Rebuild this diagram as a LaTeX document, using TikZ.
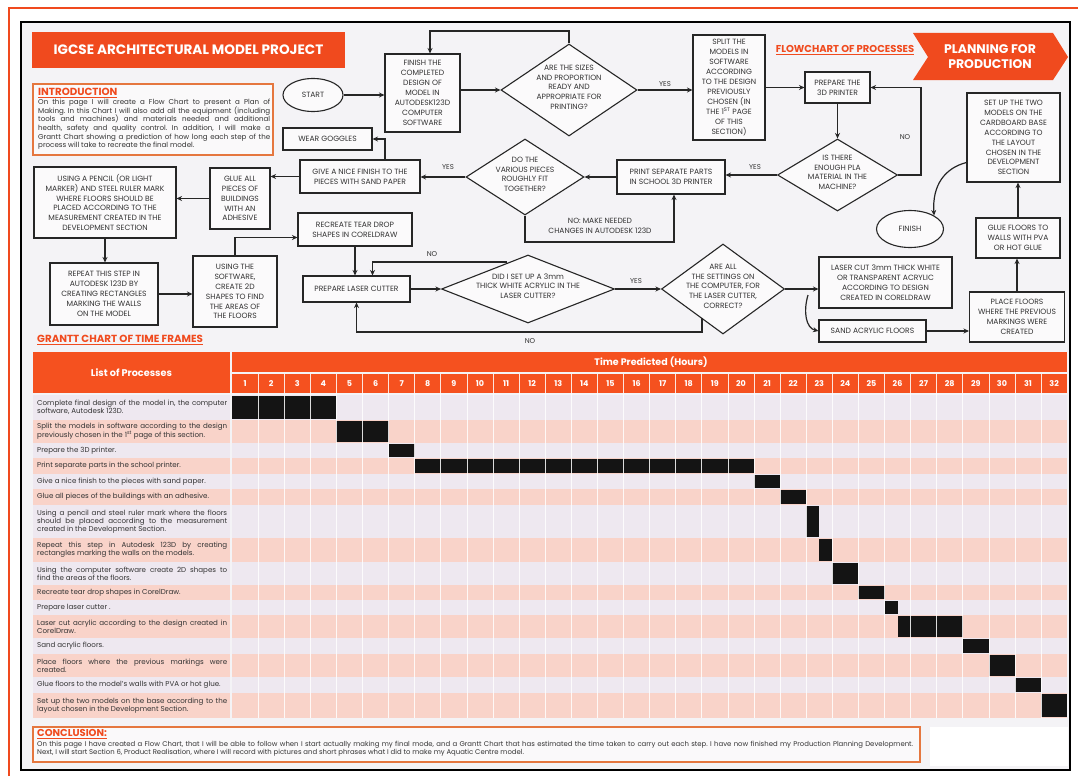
\documentclass[tikz,border=0pt]{standalone}
\usepackage{fontspec}
\setmainfont{Poppins}
\usetikzlibrary{shapes.geometric,arrows.meta,calc}
\frenchspacing
\definecolor{org}{HTML}{F04A1E}
\definecolor{orghd}{HTML}{F5511F}
\definecolor{orgline}{HTML}{E5773F}
\definecolor{pinkrow}{HTML}{F9D3C9}
\definecolor{lavrow}{HTML}{EEE8F0}
\definecolor{bg}{HTML}{F4F3F6}
\definecolor{txt}{HTML}{333333}
\newcommand\dtext[1]{\smash{\makebox[0pt]{\begin{tabular}{@{}c@{}}#1\end{tabular}}}}
\newcommand\jl[1]{\makebox[190pt][s]{#1}}
\begin{document}
\begin{tikzpicture}[x=1pt,y=-1pt,
  box/.style={draw=black!85, line width=1.1pt, fill=white!60!bg, text=txt, align=center, font=\fontsize{7.6}{9.9}\selectfont, inner sep=1pt},
  dia/.style={diamond, draw=black!85, line width=1.1pt, fill=white!60!bg, text=txt, font=\fontsize{7.6}{9.9}\selectfont, inner sep=0pt},
  ell/.style={ellipse, draw=black!85, line width=1.1pt, fill=white!60!bg, text=txt, font=\fontsize{7.6}{9.9}\selectfont, inner sep=0pt},
  arr/.style={-{Stealth[length=5.5pt,width=5pt]}, line width=1.2pt, draw=black!85},
  lbl/.style={font=\fontsize{7}{8.5}\selectfont, text=txt, inner sep=0pt},
  otitle/.style={font=\bfseries\fontsize{10.3}{12}\selectfont, text=org, inner sep=0pt, anchor=west},
  ltxt/.style={anchor=west, align=left, inner sep=0pt, font=\fontsize{7.1}{8}\selectfont, text=txt},
  num/.style={font=\bfseries\fontsize{8}{9}\selectfont, text=white, inner sep=0pt}
]
\useasboundingbox (0,0) rectangle (1078,776);
\fill[white] (0,0) rectangle (1078,776);
\fill[bg] (21,22) rectangle (1070,770);
\draw[org, line width=1.5pt] (9,776) -- (9,8) -- (1078,8);
\draw[black, line width=1.5pt] (21,22) rectangle (1070,770);

% ---- titles ----
\node[fill=org, text=white, font=\bfseries\fontsize{13.6}{15}\selectfont, minimum width=313pt, minimum height=36pt, inner sep=0] (title) at (188.5,50) {IGCSE ARCHITECTURAL MODEL PROJECT};
\fill[org] (913,33) -- (1053,33) -- (1068,57) -- (1053,80) -- (913,80) -- (928,57) -- cycle;
\node[font=\bfseries\fontsize{12.5}{14.5}\selectfont, text=white, align=center, inner sep=0] (plan) at (990,56.5) {PLANNING FOR\\PRODUCTION};
\node[font=\bfseries\fontsize{10}{12}\selectfont, text=org, inner sep=0] (fc) at (845,50) {\underline{FLOWCHART OF PROCESSES}};

% ---- introduction ----
\node[draw=orgline, line width=1.2pt, fill=white!50!bg, minimum width=240pt, minimum height=71pt, inner sep=0] (intro) at (153,119.5) {};
\node[otitle] (introt) at (38,93) {\underline{INTRODUCTION}};
\node[anchor=north west, inner sep=0, align=left, font=\fontsize{7.1}{8.6}\selectfont, text=txt] (introtxt) at (38,99) {%
\makebox[232pt][s]{On this page I will create a Flow Chart to present a Plan of}\\
\makebox[232pt][s]{Making. In this Chart I will also add all the equipment (including}\\
\makebox[232pt][s]{tools and machines) and materials needed and additional}\\
\makebox[232pt][s]{health, safety and quality control. In addition, I will make a}\\
\makebox[232pt][s]{Grantt Chart showing a prediction of how long each step of the}\\
process will take to recreate the final model.};

% ---- flowchart nodes ----
\node[ell, minimum width=60pt, minimum height=33pt] (start) at (313,95) {START};
\node[box, minimum width=75pt, minimum height=78pt] (fin) at (422.5,93) {FINISH THE\\COMPLETED\\DESIGN OF\\MODEL IN\\AUTODESK123D\\COMPUTER\\SOFTWARE};
\node[dia, minimum width=136pt, minimum height=92pt] (q1) at (569,90) {\dtext{ARE THE SIZES\\AND PROPORTION\\READY AND\\APPROPRIATE FOR\\PRINTING?}};
\node[box, minimum width=72pt, minimum height=105pt] (split) at (729,87.5) {SPLIT THE\\MODELS IN\\SOFTWARE\\ACCORDING\\TO THE DESIGN\\PREVIOUSLY\\CHOSEN (IN\\THE 1\textsuperscript{ST} PAGE\\OF THIS\\SECTION)};
\node[box, minimum width=65pt, minimum height=31pt] (prep3d) at (837.5,87.5) {PREPARE THE\\3D PRINTER};
\node[dia, minimum width=120pt, minimum height=72pt] (q2) at (837.5,175) {\dtext{IS THERE\\ENOUGH PLA\\MATERIAL IN THE\\MACHINE?}};
\node[box, minimum width=108pt, minimum height=34pt] (print) at (671,177) {PRINT SEPARATE PARTS\\IN SCHOOL 3D PRINTER};
\node[dia, minimum width=118pt, minimum height=76pt] (q3) at (525,177) {\dtext{DO THE\\VARIOUS PIECES\\ROUGHLY FIT\\TOGETHER?}};
\node[box, minimum width=120pt, minimum height=33pt] (give) at (360,176.5) {GIVE A NICE FINISH TO THE\\PIECES WITH SAND PAPER};
\node[box, minimum width=89pt, minimum height=22pt] (goggles) at (327.5,139) {WEAR GOGGLES};
\node[box, minimum width=60pt, minimum height=61pt] (glue) at (240,198.5) {GLUE ALL\\PIECES OF\\BUILDINGS\\WITH AN\\ADHESIVE};
\node[box, minimum width=142pt, minimum height=71pt] (pencil) at (105,202.5) {USING A PENCIL (OR LIGHT\\MARKER) AND STEEL RULER MARK\\WHERE FLOORS SHOULD BE\\PLACED ACCORDING TO THE\\MEASUREMENT CREATED IN THE\\DEVELOPMENT SECTION};
\node[box, minimum width=108pt, minimum height=62pt] (repeat) at (104,294) {REPEAT THIS STEP IN\\AUTODESK 123D BY\\CREATING RECTANGLES\\MARKING THE WALLS\\ON THE MODEL};
\node[box, minimum width=84pt, minimum height=71pt] (using) at (235,291.5) {USING THE\\SOFTWARE,\\CREATE 2D\\SHAPES TO FIND\\THE AREAS OF\\THE FLOORS};
\node[box, minimum width=114pt, minimum height=33pt] (recreate) at (355,229.5) {RECREATE TEAR DROP\\SHAPES IN CORELDRAW};
\node[box, minimum width=107pt, minimum height=26pt] (plaser) at (356.5,289) {PREPARE LASER CUTTER};
\node[dia, minimum width=173pt, minimum height=68pt] (q4) at (528,289) {\dtext{DID I SET UP A 3mm\\THICK WHITE ACRYLIC IN THE\\LASER CUTTER?}};
\node[dia, minimum width=123pt, minimum height=90pt] (q5) at (723,289) {\dtext{ARE ALL\\THE SETTINGS ON\\THE COMPUTER, FOR\\THE LASER CUTTER,\\CORRECT?}};
\node[box, minimum width=133pt, minimum height=51pt] (lcut) at (885.5,282.5) {LASER CUT 3mm THICK WHITE\\OR TRANSPARENT ACRYLIC\\ACCORDING TO DESIGN\\CREATED IN CORELDRAW};
\node[box, minimum width=107pt, minimum height=22pt] (sand) at (872.5,331) {SAND ACRYLIC FLOORS};
\node[box, minimum width=95pt, minimum height=50pt] (place) at (1017,317) {PLACE FLOORS\\WHERE THE PREVIOUS\\MARKINGS WERE\\CREATED};
\node[box, minimum width=84pt, minimum height=40pt] (gluef) at (1018,238) {GLUE FLOORS TO\\WALLS WITH PVA\\OR HOT GLUE};
\node[box, minimum width=93pt, minimum height=89pt] (setup) at (1013.5,137.5) {SET UP THE TWO\\MODELS ON THE\\CARDBOARD BASE\\ACCORDING TO\\THE LAYOUT\\CHOSEN IN THE\\DEVELOPMENT\\SECTION};
\node[ell, minimum width=67pt, minimum height=37pt] (finish) at (910,229) {FINISH};

% ---- connectors ----
\draw[arr] (start.east) -- (start.east -| fin.west);
\draw[arr] (q1.west -| fin.east) -- (q1.west);
\draw[arr] (q1.north) -- (q1.north |- 0,31) -| ([xshift=7.5pt]fin.north);
\draw[arr] (q1.east) -- (q1.east -| split.west);
\node[lbl] (yes1) at (665,84) {YES};
\draw[arr] (split.east) -- (prep3d.west);
\draw[arr] (prep3d.south) -- (prep3d.south |- q2.north);
\draw[arr] (q2.east) -- ++(23,0) |- (prep3d.east);
\node[lbl] (no1) at (905,137) {NO};
\draw[arr] (q2.west) -- (q2.west -| print.east);
\node[lbl] (yes2) at (755,167) {YES};
\draw[arr] (print.west) -- (print.west -| q3.east);
\draw[arr] (q3.south) -- (q3.south |- 0,242) -| ([xshift=3pt]print.south);
\node[lbl, align=center, font=\fontsize{7.5}{9.5}\selectfont] (no2) at (600,226) {NO: MAKE NEEDED\\CHANGES IN AUTODESK 123D};
\draw[arr] (q3.west) -- (q3.west -| give.east);
\node[lbl] (yes3) at (448,167) {YES};
\draw[arr] ([xshift=25pt]give.north) |- (goggles.east);
\draw[arr] (give.west) -- (give.west -| glue.east);
\draw[arr] (glue.west) -- (glue.west -| pencil.east);
\draw[arr] (pencil.south) -- (pencil.south |- repeat.north);
\draw[arr] (repeat.east) -- (repeat.east -| using.west);
\draw[arr] (using.north) |- ([yshift=-8pt]recreate.west);
\draw[arr] (recreate.south) -- (recreate.south |- plaser.north);
\coordinate (n4) at (507,262);
\draw[arr] (n4) -| ([xshift=16pt]plaser.north);
\node[lbl] (no3) at (432,254) {NO};
\draw[arr] (plaser.east) -- (plaser.east -| q4.west);
\draw[arr] (q4.east) -- (q4.east -| q5.west);
\node[lbl] (yes4) at (636,281) {YES};
\coordinate (n5) at (702,318);
\draw[arr] (n5) -- (n5 |- 0,332) -| (plaser.south);
\node[lbl] (no4) at (530,341) {NO};
\draw[arr] (q5.east) -- (q5.east -| lcut.west);
\coordinate (c1) at (808,295);
\draw[arr] (c1) .. controls (803,312) and (806,328) .. (sand.west);
\draw[arr] (sand.east) -- (sand.east -| place.west);
\draw[arr] (place.north) -- (place.north |- gluef.south);
\draw[arr] (gluef.north) -- (gluef.north |- setup.south);
\draw[arr] ([yshift=-25pt]setup.west) .. controls (945,168) and (932,185) .. (finish.north east);

% ---- Gantt chart ----
\node[otitle] (gtitle) at (37,340) {\underline{GRANTT CHART OF TIME FRAMES}};
\def\xo{232}\def\cw{26.1}
\fill[orghd] (33,352) rectangle (230,393);
\node[font=\bfseries\fontsize{9.7}{11}\selectfont, text=white, inner sep=0] (lop) at (131.5,372.5) {List of Processes};
\fill[orghd] (\xo,352) rectangle (\xo+32*\cw,372);
\node[font=\bfseries\fontsize{9.5}{11}\selectfont, text=white, inner sep=0] (tp) at (651,362) {Time Predicted (Hours)};
\fill[orghd] (\xo,374) rectangle (\xo+32*\cw,393);
\foreach \k in {1,...,32} \node[num] at (\xo+\k*\cw-\cw/2,383.5) {\k};
\foreach \ya/\yb [count=\i] in {395/420,420/443,443/458,458/474,474/489,489/505,505/538,538/562,562/585,585/600,600/615,615/638,638/654,654/677,677/693,693/718}{
  \ifodd\i\def\rc{lavrow}\else\def\rc{pinkrow}\fi
  \fill[\rc] (33,\ya+0.4) rectangle (230,\yb-0.4);
  \fill[\rc] (\xo,\ya+0.4) rectangle (\xo+32*\cw,\yb-0.4);
}
\foreach \ya/\yb/\ca/\cb in {395/420/0/4,420/443/4/6,443/458/6/7,458/474/7/20,474/489/20/21,489/505/21/22,505/538/22/22.5,538/562/22.5/23,562/585/23/24,585/600/24/25,600/615/25/25.5,615/638/25.5/28,638/654/28/29,654/677/29/30,677/693/30/31,693/718/31/32}{
  \fill[black!92] (\xo+\ca*\cw,\ya+1.2) rectangle (\xo+\cb*\cw,\yb-1);
}
\foreach \k in {1,...,31} \draw[white, line width=0.7pt, opacity=0.85] (\xo+\k*\cw,374) -- (\xo+\k*\cw,718);

\node[ltxt] (g1) at (37,407.5) {\jl{Complete final design of the model in, the computer}\\software, Autodesk 123D.};
\node[ltxt] (g2) at (37,431.5) {\jl{Split the models in software according to the design}\\previously chosen in the 1\textsuperscript{st} page of this section.};
\node[ltxt] (g3) at (37,450.5) {Prepare the 3D printer.};
\node[ltxt] (g4) at (37,466) {Print separate parts in the school printer.};
\node[ltxt] (g5) at (37,481.5) {Give a nice finish to the pieces with sand paper.};
\node[ltxt] (g6) at (37,497) {Glue all pieces of the buildings with an adhesive.};
\node[ltxt] (g7) at (37,521.5) {\jl{Using a pencil and steel ruler mark where the floors}\\\jl{should be placed according to the measurement}\\created in the Development Section.};
\node[ltxt] (g8) at (37,550) {\jl{Repeat this step in Autodesk 123D by creating}\\rectangles marking the walls on the models.};
\node[ltxt] (g9) at (37,573.5) {\jl{Using the computer software create 2D shapes to}\\find the areas of the floors.};
\node[ltxt] (g10) at (37,592.5) {Recreate tear drop shapes in CorelDraw.};
\node[ltxt] (g11) at (37,607.5) {Prepare laser cutter .};
\node[ltxt] (g12) at (37,626.5) {\jl{Laser cut acrylic according to the design created in}\\CorelDraw.};
\node[ltxt] (g13) at (37,646) {Sand acrylic floors.};
\node[ltxt] (g14) at (37,665.5) {\jl{Place floors where the previous markings were}\\created.};
\node[ltxt] (g15) at (37,685) {Glue floors to the model's walls with PVA or hot glue.};
\node[ltxt] (g16) at (37,705.5) {\jl{Set up the two models on the base according to the}\\layout chosen in the Development Section.};

% ---- conclusion ----
\fill[white] (930,727) rectangle (1068,766);
\node[draw=orgline, line width=1.2pt, fill=white!50!bg, minimum width=887pt, minimum height=35pt, inner sep=0] (concl) at (476.5,744.5) {};
\node[otitle, font=\bfseries\fontsize{10}{12}\selectfont] (conclt) at (37,734) {\underline{CONCLUSION:}};
\node[anchor=north west, inner sep=0, align=left, font=\fontsize{6.9}{8}\selectfont, text=txt] (concltxt) at (37,741) {%
\makebox[876pt][s]{On this page I have created a Flow Chart, that I will be able to follow when I start actually making my final mode, and a Grantt Chart that has estimated the time taken to carry out each step. I have now finished my Production Planning Development.}\\
Next, I will start Section 6, Product Realisation, where I will record with pictures and short phrases what I did to make my Aquatic Centre model.};
\end{tikzpicture}
\end{document}
